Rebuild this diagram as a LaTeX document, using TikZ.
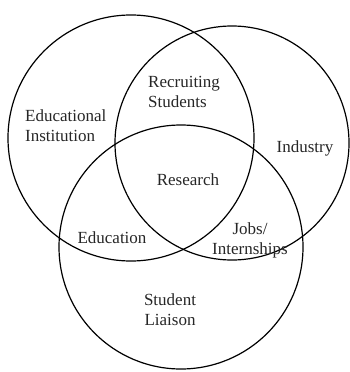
\documentclass[tikz,border=0pt]{standalone}
\usepackage{fontspec}
\setmainfont{Liberation Serif}
\usetikzlibrary{positioning}
\tikzset{
  % circle
	cstring/.style  ={line width=1.2pt, draw=black},
  % label
	cstlabel/.style ={align=center, inner sep=0pt, text=black!85,
	                  font=\fontsize{17}{20}\selectfont},
	cstlabell/.style={cstlabel, align=left, anchor=west}
}
\begin{document}
\begin{tikzpicture}[x=1pt,y=-1pt]
				\useasboundingbox (0,0) rectangle (349,372);
				\coordinate (E) at (131,138);
				\coordinate (I) at (232,143);
				\coordinate (S) at (181,247);
				\draw[cstring] (E) circle[radius=123pt];
				\draw[cstring] (I) circle[radius=117pt];
				\draw[cstring] (S) circle[radius=122pt];
				\node[cstlabell] (edu)  at (25,126)  {Educational\\Institution};
				\node[cstlabell] (rec)  at (148,92)  {Recruiting\\Students};
				\node[cstlabel]  (ind)  at (305,148) {Industry};
				\node[cstlabel]  (res)  at (188,180) {Research};
				\node[cstlabel]  (educ) at (112,238) {Education};
				\node[cstlabel]  (jobs) at (250,240) {Jobs/\\Internships};
				\node[cstlabel]  (stu)  at (170,310) {Student\\Liaison};
			\end{tikzpicture}
\end{document}
